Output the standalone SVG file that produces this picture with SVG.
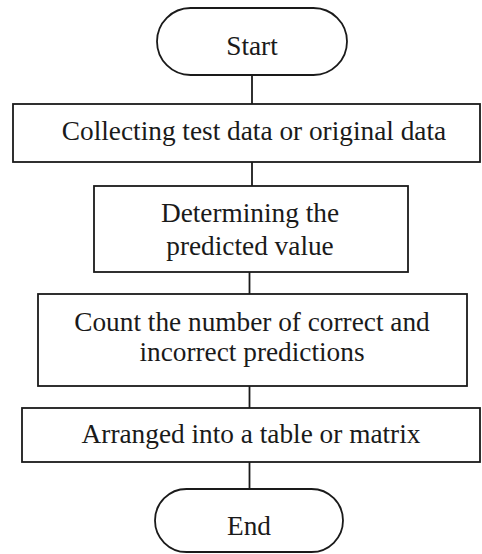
<svg xmlns="http://www.w3.org/2000/svg" width="482" height="554" viewBox="0 0 482 554">
<style>
.s{fill:#fff;stroke:#1a1a1a;stroke-width:1.8}
.c{stroke:#1a1a1a;stroke-width:1.8;fill:none}
text{font-family:"Liberation Serif","Times New Roman",serif;font-size:27.3px;fill:#1a1a1a;text-anchor:middle}
</style>
<rect width="482" height="554" fill="#fff"/>
<g id="connectors">
<line class="c" x1="252" y1="75" x2="252" y2="104"/>
<line class="c" x1="252" y1="162" x2="252" y2="186"/>
<line class="c" x1="249.5" y1="272" x2="249.5" y2="294"/>
<line class="c" x1="249.5" y1="386" x2="249.5" y2="408"/>
<line class="c" x1="249.5" y1="462" x2="249.5" y2="489"/>
</g>
<g id="start">
<rect class="s" x="157" y="8" width="190" height="67" rx="33.5"/>
<text x="252" y="55">Start</text>
</g>
<g id="collect">
<rect class="s" x="13" y="104" width="467" height="58"/>
<text x="254" y="140">Collecting test data or original data</text>
</g>
<g id="determine">
<rect class="s" x="94" y="186" width="314" height="86"/>
<text x="250" y="222">Determining the</text>
<text x="250" y="255">predicted value</text>
</g>
<g id="count">
<rect class="s" x="38" y="294" width="429" height="92"/>
<text x="252" y="331">Count the number of correct and</text>
<text x="252" y="361">incorrect predictions</text>
</g>
<g id="arrange">
<rect class="s" x="22" y="408" width="458" height="54"/>
<text x="251" y="443">Arranged into a table or matrix</text>
</g>
<g id="end">
<rect class="s" x="155" y="489" width="188" height="63" rx="31.5"/>
<text x="249" y="535">End</text>
</g>
</svg>
